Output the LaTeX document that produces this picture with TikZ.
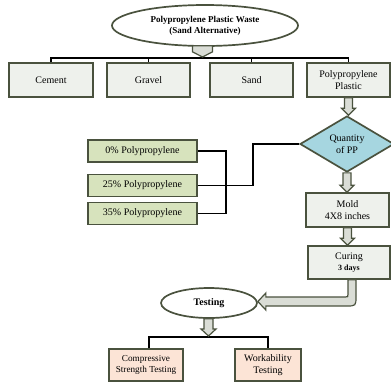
\documentclass[tikz,border=0pt]{standalone}
\usepackage{fontspec}
\setmainfont{Liberation Serif}
\usetikzlibrary{shapes.geometric,calc}
\definecolor{bord}{RGB}{74,82,62}
\definecolor{grayfill}{RGB}{238,241,236}
\definecolor{greenfill}{RGB}{215,227,189}
\definecolor{bluefill}{RGB}{166,214,224}
\definecolor{peachfill}{RGB}{252,228,214}
\definecolor{arrfill}{RGB}{218,221,214}
\tikzset{
  base/.style={draw=bord, line width=1.7pt, inner sep=0pt, align=center, font=\fontsize{10}{12}\selectfont},
  graybox/.style={base, rectangle, fill=grayfill},
  greenbox/.style={base, rectangle, fill=greenfill, minimum width=109pt, minimum height=22pt},
  peachbox/.style={base, rectangle, fill=peachfill, font=\fontsize{9.2}{11.5}\selectfont},
  ell/.style={base, ellipse, fill=white},
  dia/.style={base, diamond, fill=bluefill},
  ln/.style={draw=black, line width=1.5pt},
  blk/.style={draw=bord, fill=arrfill, line width=1.2pt, line join=miter},
}
\newcommand{\blkdn}[2]{%
  \draw[blk] let \p1=(#1.south), \p2=(#2.north) in
    (\x1-4pt,\y1) -- (\x1+4pt,\y1) -- (\x1+4pt,\y2+7pt) -- (\x1+7pt,\y2+7pt)
    -- (\x1,\y2) -- (\x1-7pt,\y2+7pt) -- (\x1-4pt,\y2+7pt) -- cycle;}
\begin{document}
\begin{tikzpicture}[x=1pt,y=-1pt]
\useasboundingbox (0,0) rectangle (391,384);

% title
\node[ell, minimum width=186pt, minimum height=41pt, font=\bfseries\fontsize{9}{11}\selectfont] (title) at (205,25.5) {Polypropylene Plastic Waste\\(Sand Alternative)};

% top row
\node[graybox, minimum width=84pt, minimum height=34pt] (cement) at (51,80) {Cement};
\node[graybox, minimum width=83pt, minimum height=34pt] (gravel) at (148.5,80) {Gravel};
\node[graybox, minimum width=83pt, minimum height=34pt] (sand) at (251.5,80) {Sand};
\node[graybox, minimum width=83pt, minimum height=34pt] (pp) at (348.5,80) {Polypropylene\\Plastic};

\coordinate (bus) at (0,58);
\draw[ln] (cement.north) -- (cement.north |- bus) -- (pp.north |- bus) -- (pp.north);
\draw[ln] (gravel.north) -- (gravel.north |- bus);
\draw[ln] (sand.north) -- (sand.north |- bus);

% pentagon arrow from title
\draw[blk] let \p1=([xshift=-2.5pt]title.south), \p2=(bus) in
  (\x1-10pt,\y1+1pt) -- (\x1+10pt,\y1+1pt) -- (\x1+10pt,\y1-5pt) -- (\x1,\y2+1pt) -- (\x1-10pt,\y1-5pt) -- cycle;

% diamond
\node[dia, minimum width=94pt, minimum height=56pt] (qty) at (347,144) {Quantity\\of PP};
\blkdn{pp}{qty}

% percent boxes
\node[greenbox] (p0) at (142.5,151) {0\% Polypropylene};
\node[greenbox] (p25) at (142.5,185.5) {25\% Polypropylene};
\node[greenbox] (p35) at (142.5,213.5) {35\% Polypropylene};

\coordinate (br) at (226,0);
\coordinate (jog) at (253,0);
\draw[ln] (p0.east) -- (p0.east -| br) -- (p35.east -| br) -- (p35.east);
\draw[ln] (p25.east) -- (p25.east -| jog) -- (qty.west -| jog) -- (qty.west);

% mold and curing
\node[graybox, minimum width=83pt, minimum height=34pt] (mold) at (347.5,210) {Mold\\4X8 inches};
\node[graybox, minimum width=82pt, minimum height=33pt] (curing) at (349,262.5) {Curing\\[-1pt]{\bfseries\fontsize{8}{9}\selectfont 3 days}};
\blkdn{qty}{mold}
\blkdn{mold}{curing}

% testing
\node[ell, minimum width=96pt, minimum height=30pt, font=\bfseries\fontsize{10}{12}\selectfont] (testing) at (209,303) {Testing};

\draw[blk] let \p1=([xshift=3pt]curing.south), \p2=(testing.east) in
  (\x1-4pt,\y1) -- (\x1+4pt,\y1) -- (\x1+4pt,\y2+7pt)
  .. controls (\x1+4pt,\y2-3pt) .. (\x1-6pt,\y2-3pt)
  -- (\x2+8pt,\y2-3pt) -- (\x2+8pt,\y2-7pt) -- (\x2,\y2+1.5pt)
  -- (\x2+8pt,\y2+10pt) -- (\x2+8pt,\y2+6pt) -- (\x1-7pt,\y2+6pt)
  .. controls (\x1-4pt,\y2+6pt) .. (\x1-4pt,\y2+9pt) -- cycle;

% bottom boxes
\node[peachbox, minimum width=74pt, minimum height=32pt] (comp) at (146,365) {Compressive\\Strength Testing};
\node[peachbox, minimum width=66pt, minimum height=32pt, font=\fontsize{10}{12}\selectfont] (work) at (268,365) {Workability\\Testing};

\coordinate (bus2) at (0,337);
\draw[ln] ([xshift=3pt]comp.north) -- ([xshift=3pt]comp.north |- bus2) -- (work.north |- bus2) -- (work.north);

\draw[blk] let \p1=([xshift=-0.5pt]testing.south), \p2=(bus2) in
  (\x1-4.5pt,\y1) -- (\x1+4.5pt,\y1) -- (\x1+4.5pt,\y2+8pt) -- (\x1+7.5pt,\y2+8pt)
  -- (\x1,\y2+1pt) -- (\x1-7.5pt,\y2+8pt) -- (\x1-4.5pt,\y2+8pt) -- cycle;
\end{tikzpicture}
\end{document}
